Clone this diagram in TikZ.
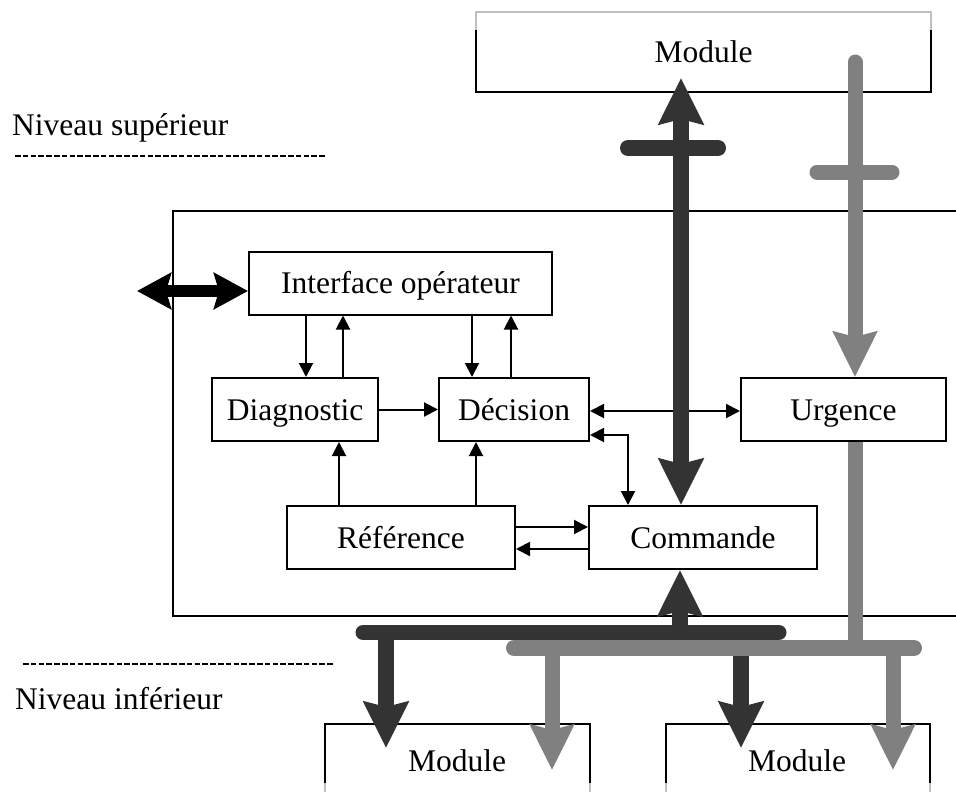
\documentclass[tikz,border=0pt]{standalone}
\usepackage{fontspec}
\setmainfont{Liberation Serif}
\usetikzlibrary{arrows.meta}
\definecolor{darkbar}{HTML}{333333}
\definecolor{greybar}{HTML}{808080}
\definecolor{lightedge}{HTML}{C0C0C0}
\newcommand{\bigfont}{\fontsize{31.5}{36}\selectfont}
\begin{document}
\begin{tikzpicture}[x=1pt,y=-1pt,
  box/.style={draw, line width=2pt, minimum height=63pt, inner sep=0pt, text height=21pt, text depth=0pt, font=\bigfont},
  lbl/.style={inner sep=0pt, font=\bigfont},
  edge/.style={line width=2pt},
  faintedge/.style={line width=1.5pt, draw=lightedge},
  dashline/.style={line width=1.3pt, dash pattern=on 5.5pt off 2.3pt},
  sarrow/.style={line width=2pt, -{Triangle[length=14pt,width=14pt]}},
  sdarrow/.style={line width=2pt, {Triangle[length=14pt,width=14pt]}-{Triangle[length=14pt,width=14pt]}},
  darkline/.style={draw=darkbar, line width=16pt},
  greyline/.style={draw=greybar, line width=15pt},
  dtip/.tip={Stealth[length=46pt,width=44pt,inset=5pt]},
  gtip/.tip={Stealth[length=45pt,width=43pt,inset=5pt]},
  btip/.tip={Stealth[length=34pt,width=36pt,inset=5pt]}
]
\useasboundingbox (0,0) rectangle (956,792);

% level labels
\node[lbl, anchor=base west] (sup) at (12,135) {Niveau supérieur};
\node[lbl, anchor=base west] (inf) at (15,709) {Niveau inférieur};
\draw[dashline] (15,156) -- (325,156);
\draw[dashline] (23,664) -- (333,664);

% outer frame
\draw[edge] (956,211) -- (173,211) -- (173,616) -- (956,616);

% top module
\draw[faintedge] (476,30) -- (476,12) -- (931,12) -- (931,30);
\draw[edge] (476,30) -- (476,92) -- (931,92) -- (931,30);
\node[lbl, anchor=base] (mtop) at (703.5,63) {Module};

% lower modules
\draw[faintedge] (325,783) -- (325,792);
\draw[faintedge] (590,783) -- (590,792);
\draw[faintedge] (666,783) -- (666,792);
\draw[faintedge] (930,783) -- (930,792);
\draw[edge] (325,783) -- (325,724) -- (590,724) -- (590,783);
\draw[edge] (666,783) -- (666,724) -- (930,724) -- (930,783);
\node[lbl, anchor=base] (mleft) at (457,771) {Module};
\node[lbl, anchor=base] (mright) at (797,771) {Module};

% blocks
\node[box, minimum width=303pt] (iface) at (400.5,283) {Interface opérateur};
\node[box, minimum width=166pt] (diag) at (295,409.5) {Diagnostic};
\node[box, minimum width=150pt] (dec) at (514,409.5) {Décision};
\node[box, minimum width=205pt] (urg) at (843.5,409.5) {Urgence};
\node[box, minimum width=228pt] (ref) at (401,537.5) {Référence};
\node[box, minimum width=228pt] (cmd) at (703,537.5) {Commande};

% thin connectors
\draw[sarrow] (iface.south -| 306,0) -- (diag.north -| 306,0);
\draw[sarrow] (diag.north -| 343,0) -- (iface.south -| 343,0);
\draw[sarrow] (iface.south -| 472,0) -- (dec.north -| 472,0);
\draw[sarrow] (dec.north -| 511,0) -- (iface.south -| 511,0);
\draw[sarrow] (diag.east) -- (dec.west);
\draw[sarrow] (ref.north -| 339,0) -- (diag.south -| 339,0);
\draw[sarrow] (ref.north -| 476,0) -- (dec.south -| 476,0);
\draw[sarrow] (ref.east |- 0,527) -- (cmd.west |- 0,527);
\draw[sarrow] (cmd.west |- 0,549) -- (ref.east |- 0,549);
\draw[sdarrow] (dec.east |- 0,411) -- (urg.west |- 0,411);
\draw[sdarrow] (dec.east |- 0,435) -| (cmd.north -| 628,0);

% operator double arrow
\coordinate (opl) at (137,291);
\draw[line width=12pt, btip-btip] (opl) -- (iface.west |- opl);

% dark bus (upper)
\coordinate (dtop) at (681,78);
\draw[darkline, dtip-dtip] (cmd.north -| 681,0) -- (dtop);
\coordinate (dcl) at (628,148);
\coordinate (dcr) at (718,148);
\draw[darkline, line cap=round] (dcl) -- (dcr);

% grey bus (upper)
\coordinate (gtop) at (855,62);
\draw[greyline, line cap=round, -gtip] (gtop) -- (urg.north -| 855,0);
\coordinate (gcl) at (817,172);
\coordinate (gcr) at (892,172);
\draw[greyline, line cap=round] (gcl) -- (gcr);

% dark bus (lower)
\coordinate (dbl) at (363,632.5);
\coordinate (dbr) at (779,632.5);
\coordinate (dbu) at (680,632.5);
\coordinate (dbd1) at (386,632.5);
\coordinate (dbd2) at (741,632.5);
\coordinate (dt1) at (386,748);
\coordinate (dt2) at (741,748);
\draw[darkline, -dtip] (dbu) -- (cmd.south -| dbu);
\draw[darkline, -dtip] (dbd1) -- (dt1);
\draw[darkline, -dtip] (dbd2) -- (dt2);
\draw[darkline, line width=15pt, line cap=round] (dbl) -- (dbr);

% grey bus (lower)
\coordinate (gbl) at (514,648);
\coordinate (gbr) at (914,648);
\coordinate (gbu) at (855,648);
\coordinate (gbd1) at (552,648);
\coordinate (gbd2) at (893,648);
\coordinate (gt1) at (552,770);
\coordinate (gt2) at (893,770);
\draw[greyline] (urg.south -| gbu) -- (gbu);
\draw[greyline, -gtip] (gbd1) -- (gt1);
\draw[greyline, -gtip] (gbd2) -- (gt2);
\draw[greyline, line width=16pt, line cap=round] (gbl) -- (gbr);
\end{tikzpicture}
\end{document}
